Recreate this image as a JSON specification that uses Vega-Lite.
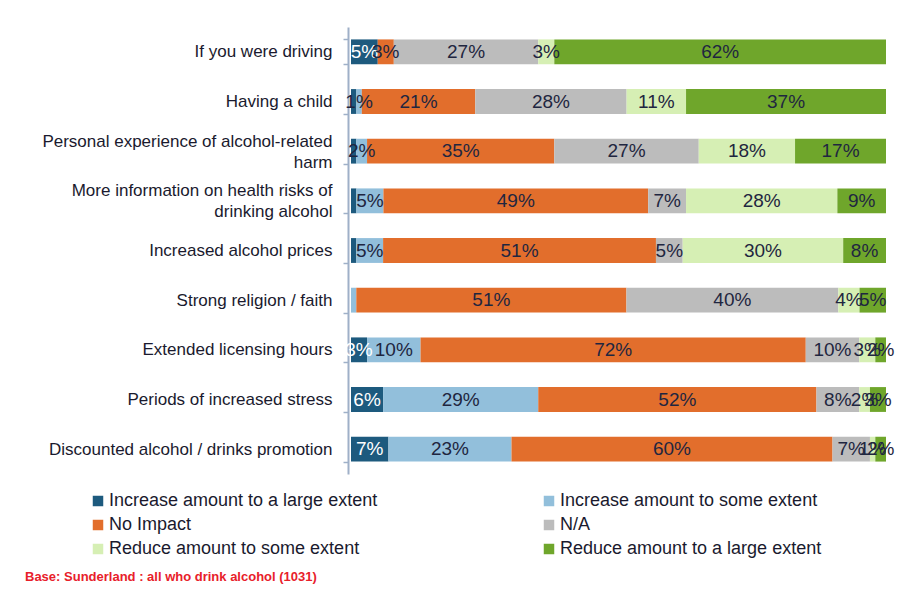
{
  "$schema": "https://vega.github.io/schema/vega-lite/v6.json",
  "width": 535,
  "height": 447,
  "autosize": {"type": "none"},
  "padding": {"left": 351, "top": 27, "right": 20, "bottom": 118},
  "background": "white",
  "config": {"font": "Liberation Sans", "view": {"stroke": null}},
  "title": {
    "text": "Base: Sunderland : all who drink alcohol (1031)",
    "orient": "bottom",
    "anchor": "start",
    "frame": "group",
    "dx": -326,
    "offset": 13,
    "color": "#e8202a",
    "fontSize": 13,
    "fontWeight": "bold"
  },
  "data": {
    "values": [
      {"cat": "If you were driving", "resp": "Increase amount to a large extent", "value": 5, "label": "5%"},
      {"cat": "If you were driving", "resp": "Increase amount to some extent", "value": 0, "label": ""},
      {"cat": "If you were driving", "resp": "No Impact", "value": 3, "label": "3%"},
      {"cat": "If you were driving", "resp": "N/A", "value": 27, "label": "27%"},
      {"cat": "If you were driving", "resp": "Reduce amount to some extent", "value": 3, "label": "3%"},
      {"cat": "If you were driving", "resp": "Reduce amount to a large extent", "value": 62, "label": "62%"},

      {"cat": "Having a child", "resp": "Increase amount to a large extent", "value": 1, "label": ""},
      {"cat": "Having a child", "resp": "Increase amount to some extent", "value": 1, "label": "1%"},
      {"cat": "Having a child", "resp": "No Impact", "value": 21, "label": "21%"},
      {"cat": "Having a child", "resp": "N/A", "value": 28, "label": "28%"},
      {"cat": "Having a child", "resp": "Reduce amount to some extent", "value": 11, "label": "11%"},
      {"cat": "Having a child", "resp": "Reduce amount to a large extent", "value": 37, "label": "37%"},

      {"cat": "Personal experience of alcohol-related harm", "resp": "Increase amount to a large extent", "value": 1, "label": ""},
      {"cat": "Personal experience of alcohol-related harm", "resp": "Increase amount to some extent", "value": 2, "label": "2%"},
      {"cat": "Personal experience of alcohol-related harm", "resp": "No Impact", "value": 35, "label": "35%"},
      {"cat": "Personal experience of alcohol-related harm", "resp": "N/A", "value": 27, "label": "27%"},
      {"cat": "Personal experience of alcohol-related harm", "resp": "Reduce amount to some extent", "value": 18, "label": "18%"},
      {"cat": "Personal experience of alcohol-related harm", "resp": "Reduce amount to a large extent", "value": 17, "label": "17%"},

      {"cat": "More information on health risks of drinking alcohol", "resp": "Increase amount to a large extent", "value": 1, "label": ""},
      {"cat": "More information on health risks of drinking alcohol", "resp": "Increase amount to some extent", "value": 5, "label": "5%"},
      {"cat": "More information on health risks of drinking alcohol", "resp": "No Impact", "value": 49, "label": "49%"},
      {"cat": "More information on health risks of drinking alcohol", "resp": "N/A", "value": 7, "label": "7%"},
      {"cat": "More information on health risks of drinking alcohol", "resp": "Reduce amount to some extent", "value": 28, "label": "28%"},
      {"cat": "More information on health risks of drinking alcohol", "resp": "Reduce amount to a large extent", "value": 9, "label": "9%"},

      {"cat": "Increased alcohol prices", "resp": "Increase amount to a large extent", "value": 1, "label": ""},
      {"cat": "Increased alcohol prices", "resp": "Increase amount to some extent", "value": 5, "label": "5%"},
      {"cat": "Increased alcohol prices", "resp": "No Impact", "value": 51, "label": "51%"},
      {"cat": "Increased alcohol prices", "resp": "N/A", "value": 5, "label": "5%"},
      {"cat": "Increased alcohol prices", "resp": "Reduce amount to some extent", "value": 30, "label": "30%"},
      {"cat": "Increased alcohol prices", "resp": "Reduce amount to a large extent", "value": 8, "label": "8%"},

      {"cat": "Strong religion / faith", "resp": "Increase amount to a large extent", "value": 0, "label": ""},
      {"cat": "Strong religion / faith", "resp": "Increase amount to some extent", "value": 1, "label": ""},
      {"cat": "Strong religion / faith", "resp": "No Impact", "value": 51, "label": "51%"},
      {"cat": "Strong religion / faith", "resp": "N/A", "value": 40, "label": "40%"},
      {"cat": "Strong religion / faith", "resp": "Reduce amount to some extent", "value": 4, "label": "4%"},
      {"cat": "Strong religion / faith", "resp": "Reduce amount to a large extent", "value": 5, "label": "5%"},

      {"cat": "Extended licensing hours", "resp": "Increase amount to a large extent", "value": 3, "label": "3%"},
      {"cat": "Extended licensing hours", "resp": "Increase amount to some extent", "value": 10, "label": "10%"},
      {"cat": "Extended licensing hours", "resp": "No Impact", "value": 72, "label": "72%"},
      {"cat": "Extended licensing hours", "resp": "N/A", "value": 10, "label": "10%"},
      {"cat": "Extended licensing hours", "resp": "Reduce amount to some extent", "value": 3, "label": "3%"},
      {"cat": "Extended licensing hours", "resp": "Reduce amount to a large extent", "value": 2, "label": "2%"},

      {"cat": "Periods of increased stress", "resp": "Increase amount to a large extent", "value": 6, "label": "6%"},
      {"cat": "Periods of increased stress", "resp": "Increase amount to some extent", "value": 29, "label": "29%"},
      {"cat": "Periods of increased stress", "resp": "No Impact", "value": 52, "label": "52%"},
      {"cat": "Periods of increased stress", "resp": "N/A", "value": 8, "label": "8%"},
      {"cat": "Periods of increased stress", "resp": "Reduce amount to some extent", "value": 2, "label": "2%"},
      {"cat": "Periods of increased stress", "resp": "Reduce amount to a large extent", "value": 3, "label": "3%"},

      {"cat": "Discounted alcohol / drinks promotion", "resp": "Increase amount to a large extent", "value": 7, "label": "7%"},
      {"cat": "Discounted alcohol / drinks promotion", "resp": "Increase amount to some extent", "value": 23, "label": "23%"},
      {"cat": "Discounted alcohol / drinks promotion", "resp": "No Impact", "value": 60, "label": "60%"},
      {"cat": "Discounted alcohol / drinks promotion", "resp": "N/A", "value": 7, "label": "7%"},
      {"cat": "Discounted alcohol / drinks promotion", "resp": "Reduce amount to some extent", "value": 1, "label": "1%"},
      {"cat": "Discounted alcohol / drinks promotion", "resp": "Reduce amount to a large extent", "value": 2, "label": "2%"}
    ]
  },
  "transform": [
    {"calculate": "indexof(['Increase amount to a large extent','Increase amount to some extent','No Impact','N/A','Reduce amount to some extent','Reduce amount to a large extent'], datum.resp)", "as": "ord"},
    {"stack": "value", "groupby": ["cat"], "sort": [{"field": "ord", "order": "ascending"}], "offset": "normalize", "as": ["v0", "v1"]},
    {"calculate": "(datum.v0 + datum.v1) / 2", "as": "mid"}
  ],
  "encoding": {
    "y": {
      "field": "cat",
      "type": "nominal",
      "sort": ["If you were driving", "Having a child", "Personal experience of alcohol-related harm", "More information on health risks of drinking alcohol", "Increased alcohol prices", "Strong religion / faith", "Extended licensing hours", "Periods of increased stress", "Discounted alcohol / drinks promotion"],
      "scale": {"paddingInner": 0.5, "paddingOuter": 0.25},
      "axis": {
        "title": null,
        "offset": 3,
        "domainColor": "#9fb0c8",
        "domainWidth": 2,
        "tickColor": "#9fb0c8",
        "tickWidth": 1.5,
        "tickSize": 5,
        "tickBand": "extent",
        "labelPadding": 11,
        "labelFontSize": 17,
        "labelColor": "#1a1a2e",
        "labelLimit": 340,
        "labelLineHeight": 21,
        "labelOffset": {"condition": {"test": "datum.value == 'Personal experience of alcohol-related harm' || datum.value == 'More information on health risks of drinking alcohol'", "value": -10}, "value": 0},
        "labelExpr": "datum.value == 'Personal experience of alcohol-related harm' ? ['Personal experience of alcohol-related', 'harm'] : datum.value == 'More information on health risks of drinking alcohol' ? ['More information on health risks of', 'drinking alcohol'] : datum.value"
      }
    }
  },
  "layer": [
    {
      "mark": {"type": "bar"},
      "encoding": {
        "x": {"field": "v0", "type": "quantitative", "scale": {"domain": [0, 1]}, "axis": null},
        "x2": {"field": "v1"},
        "color": {
          "field": "resp",
          "type": "nominal",
          "scale": {
            "domain": ["Increase amount to a large extent", "Increase amount to some extent", "No Impact", "N/A", "Reduce amount to some extent", "Reduce amount to a large extent"],
            "range": ["#1d5a7e", "#92bfdb", "#e26e2c", "#bcbcbc", "#d6efb4", "#6fa62b"]
          },
          "legend": {
            "orient": "none",
            "legendX": -262,
            "legendY": 465,
            "columns": 2,
            "columnPadding": 162,
            "rowPadding": 6,
            "values": ["Increase amount to a large extent", "No Impact", "Reduce amount to some extent", "Increase amount to some extent", "N/A", "Reduce amount to a large extent"],
            "title": null,
            "symbolType": "square",
            "symbolSize": 110,
            "symbolStrokeWidth": 0,
            "labelFontSize": 18,
            "labelColor": "#1a1a2e",
            "labelLimit": 400,
            "labelOffset": 2
          }
        }
      }
    },
    {
      "mark": {"type": "text", "fontSize": 19, "baseline": "middle", "align": "center"},
      "encoding": {
        "x": {"field": "mid", "type": "quantitative"},
        "text": {"field": "label"},
        "color": {"condition": {"test": "datum.resp == 'Increase amount to a large extent'", "value": "white"}, "value": "#1f2640"}
      }
    }
  ]
}
